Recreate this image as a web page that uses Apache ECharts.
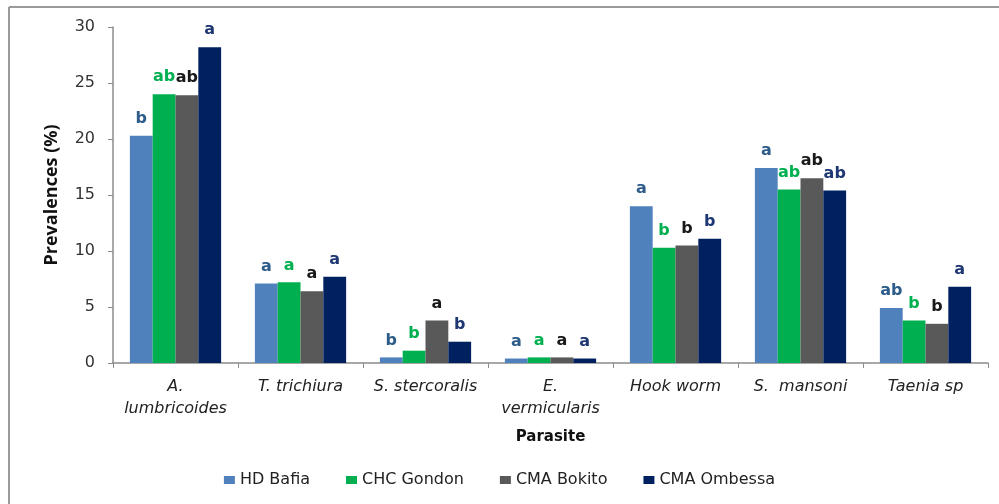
<!DOCTYPE html>
<html>
<head>
<meta charset="utf-8">
<script src="https://cdn.jsdelivr.net/npm/echarts@6/dist/echarts.min.js"></script>
<style>
  html, body { margin: 0; padding: 0; background: #fff; }
  #chart { width: 999px; height: 504px; }
</style>
</head>
<body>
<div id="chart"></div>
<script>
// Parasite prevalence by health facility
const parasites = ['A.\nlumbricoides', 'T. trichiura', 'S. stercoralis', 'E.\nvermicularis', 'Hook worm', 'S.  mansoni', 'Taenia sp'];
const seriesNames = ['HD Bafia', 'CHC Gondon', 'CMA Bokito', 'CMA Ombessa'];

const hdBafia    = [20.3, 7.1, 0.5, 0.4, 14.0, 17.4, 4.9];
const chcGondon  = [24.0, 7.2, 1.1, 0.5, 10.3, 15.5, 3.8];
const cmaBokito  = [23.9, 6.4, 3.8, 0.5, 10.5, 16.5, 3.5];
const cmaOmbessa = [28.2, 7.7, 1.9, 0.4, 11.1, 15.4, 6.8];

// Significance letters drawn above each bar
const hdBafiaLetters    = ['b', 'a', 'b', 'a', 'a', 'a', 'ab'];
const chcGondonLetters  = ['ab', 'a', 'b', 'a', 'b', 'ab', 'b'];
const cmaBokitoLetters  = ['ab', 'a', 'a', 'a', 'b', 'ab', 'b'];
const cmaOmbessaLetters = ['a', 'a', 'b', 'a', 'b', 'ab', 'a'];

const yTicks = [0, 5, 10, 15, 20, 25, 30];

const barColors    = ['#4f81bd', '#00b050', '#595959', '#002060'];
const letterColors = ['#2e5c8a', '#00b050', '#1a1a1a', '#1f3873'];

const values  = [hdBafia, chcGondon, cmaBokito, cmaOmbessa];
const letters = [hdBafiaLetters, chcGondonLetters, cmaBokitoLetters, cmaOmbessaLetters];

const font = 'DejaVu Sans';

const chart = echarts.init(document.getElementById('chart'));
chart.setOption({
  animation: false,
  backgroundColor: '#fff',
  graphic: [
    { type: 'line', shape: { x1: 9, y1: 7, x2: 999, y2: 7 }, style: { stroke: '#9a9a9a', lineWidth: 2 } },
    { type: 'line', shape: { x1: 9, y1: 7, x2: 9, y2: 504 }, style: { stroke: '#9a9a9a', lineWidth: 2 } }
  ],
  grid: { left: 113, right: 11, top: 27, bottom: 141, containLabel: false },
  legend: {
    bottom: 11,
    left: 'center',
    itemWidth: 11,
    itemHeight: 8,
    itemGap: 36,
    icon: 'rect',
    textStyle: { fontFamily: font, fontSize: 16, color: '#222' },
    data: seriesNames
  },
  xAxis: {
    type: 'category',
    data: parasites,
    name: 'Parasite',
    nameLocation: 'middle',
    nameGap: 67,
    nameTextStyle: { fontFamily: font, fontWeight: 'bold', fontSize: 15, color: '#111' },
    axisLine: { lineStyle: { color: '#8c8c8c', width: 1.5 } },
    axisTick: { show: true, length: 5, lineStyle: { color: '#8c8c8c' } },
    axisLabel: { interval: 0, fontFamily: font, fontStyle: 'italic', fontSize: 16, color: '#222', margin: 13, lineHeight: 22 }
  },
  yAxis: {
    type: 'value',
    min: 0,
    max: 30,
    interval: 5,
    name: 'Prevalences (%)',
    nameLocation: 'middle',
    nameGap: 52,
    nameTextStyle: { fontFamily: 'Open Sans', fontWeight: 'bold', fontSize: 18, color: '#111' },
    axisLine: { show: true, lineStyle: { color: '#8c8c8c', width: 1.5 } },
    axisTick: { show: true, length: 5, inside: false, lineStyle: { color: '#8c8c8c' } },
    splitLine: { show: false },
    axisLabel: {
      fontFamily: font, fontSize: 16, color: '#333', margin: 18,
      formatter: v => yTicks.includes(v) ? String(v) : ''
    }
  },
  series: seriesNames.map((name, i) => ({
    name,
    type: 'bar',
    barGap: '0%',
    barCategoryGap: '27%',
    itemStyle: { color: barColors[i] },
    label: {
      show: true,
      position: 'top',
      distance: 9,
      fontFamily: font,
      fontWeight: 'bold',
      fontSize: 16,
      color: letterColors[i],
      formatter: p => letters[i][p.dataIndex]
    },
    data: values[i]
  }))
});
</script>
</body>
</html>
